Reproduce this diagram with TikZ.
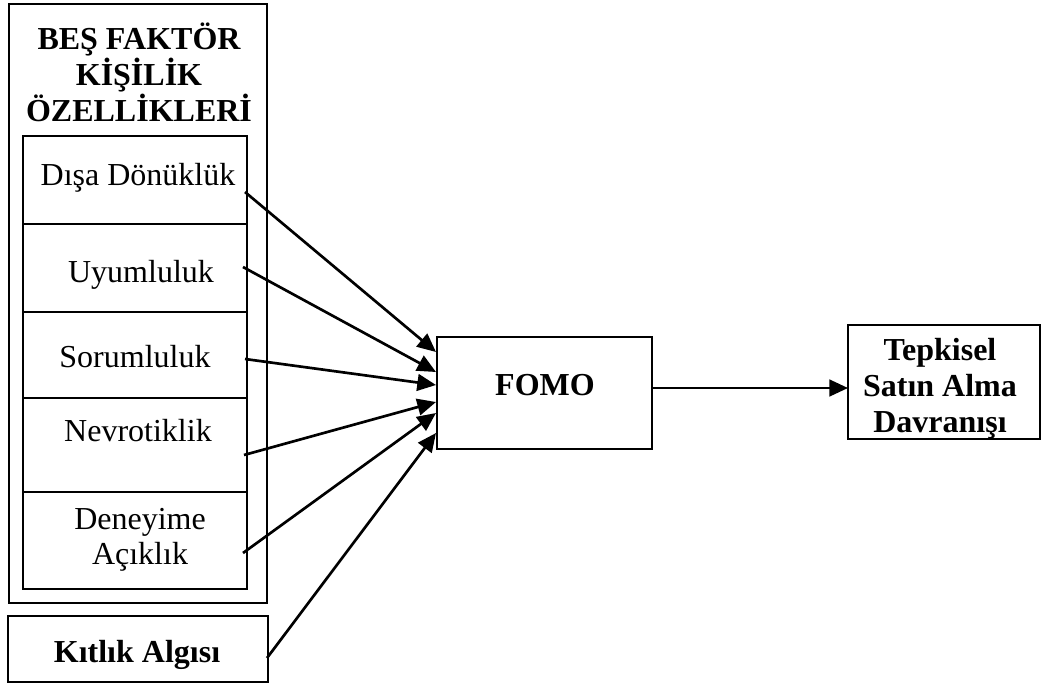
\documentclass[tikz,border=0pt]{standalone}
\usepackage{fontspec}
\setmainfont{Liberation Serif}
\usetikzlibrary{arrows.meta,fit}
\begin{document}
\begin{tikzpicture}[x=0.75pt,y=-0.75pt,
  box/.style={draw,line width=2.1pt,inner sep=0pt},
  lbl/.style={anchor=base,inner sep=0pt,font=\fontsize{24}{26.5}\selectfont},
  mlbl/.style={inner sep=0pt,align=center,font=\fontsize{24}{26.5}\selectfont},
  blbl/.style={inner sep=0pt,align=center,font=\fontsize{24}{27}\selectfont\bfseries},
  arr/.style={line width=2pt,-{Triangle[length=14pt,width=12.5pt]}}]
\useasboundingbox (0,0) rectangle (1041,689);
% boxes
\node[box,fit={(9,4) (267,603)}] (outer) {};
\node[box,fit={(23,136) (247,589)}] (inner) {};
\node[box,fit={(23,136) (247,224)}] (c1) {};
\node[box,fit={(23,224) (247,312)}] (c2) {};
\node[box,fit={(23,312) (247,398)}] (c3) {};
\node[box,fit={(23,398) (247,492)}] (c4) {};
\node[box,fit={(23,492) (247,589)}] (c5) {};
\node[box,fit={(8,616) (268,682)}] (kit) {};
\node[box,fit={(437,337) (652,449)}] (fomo) {};
\node[box,fit={(848,325) (1040,439)}] (tep) {};
% texts
\node[blbl] (title) at (139,72) {BEŞ FAKTÖR\\KİŞİLİK\\ÖZELLİKLERİ};
\node[lbl] (t1) at (138,185) {Dışa Dönüklük};
\node[lbl] (t2) at (141,282) {Uyumluluk};
\node[lbl] (t3) at (135,367) {Sorumluluk};
\node[lbl] (t4) at (138,441) {Nevrotiklik};
\node[mlbl] (t5) at (140,540) {Deneyime\\Açıklık};
\node[lbl,font=\fontsize{24}{26.5}\selectfont\bfseries] (tk) at (137,662) {Kıtlık Algısı};
\node[lbl,font=\fontsize{24}{26.5}\selectfont\bfseries] (tf) at (545,395) {FOMO};
\node[blbl] (tt) at (940,389) {Tepkisel\\Satın Alma\\Davranışı};
% connector ends
\coordinate (s1) at (245,192);
\coordinate (s2) at (243,267);
\coordinate (s3) at (245,359);
\coordinate (s4) at (244,455);
\coordinate (s5) at (243,553);
\coordinate (s6) at (267,658);
\coordinate (e1) at (436,352);
\coordinate (e2) at (436,372);
\coordinate (e3) at (436,385);
\coordinate (e4) at (436,402);
\coordinate (e5) at (436,413);
\coordinate (e6) at (436,433);
\coordinate (f1) at (652,388);
\coordinate (f2) at (848,388);
\draw[arr] (s1) -- (e1);
\draw[arr] (s2) -- (e2);
\draw[arr] (s3) -- (e3);
\draw[arr] (s4) -- (e4);
\draw[arr] (s5) -- (e5);
\draw[arr] (s6) -- (e6);
\draw[arr] (f1) -- (f2);
\end{tikzpicture}
\end{document}
